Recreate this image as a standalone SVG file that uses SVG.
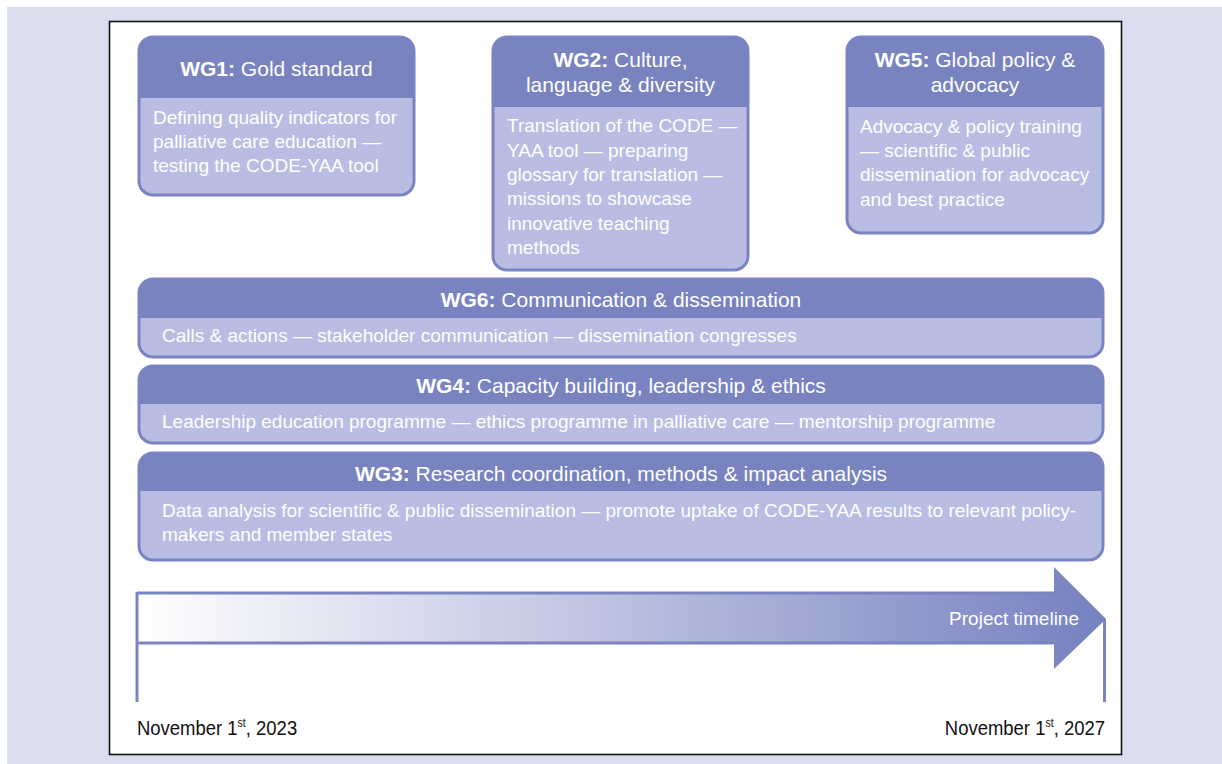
<svg xmlns="http://www.w3.org/2000/svg" width="1222" height="764" viewBox="0 0 1222 764">
  <defs>
    <linearGradient id="tl" x1="137" y1="0" x2="1106" y2="0" gradientUnits="userSpaceOnUse">
      <stop offset="0" stop-color="#ffffff"/>
      <stop offset="1" stop-color="#7681c0"/>
    </linearGradient>
    <clipPath id="c1"><rect x="139" y="37" width="275" height="158" rx="14"/></clipPath>
    <clipPath id="c2"><rect x="493" y="37" width="255" height="233" rx="14"/></clipPath>
    <clipPath id="c5"><rect x="847" y="37" width="256" height="196" rx="14"/></clipPath>
    <clipPath id="c6"><rect x="139" y="279" width="964" height="78" rx="14"/></clipPath>
    <clipPath id="c4"><rect x="139" y="366" width="964" height="77" rx="14"/></clipPath>
    <clipPath id="c3"><rect x="139" y="453" width="964" height="107" rx="14"/></clipPath>
  </defs>
  <style>
    .body { fill: #b9bde3; }
    .head { fill: #7883c0; }
    .frame { fill: none; stroke: #7a84c2; stroke-width: 3; }
    .title { font-family: "Liberation Sans", Arial, sans-serif; font-size: 21px; fill: #ffffff; text-anchor: middle; }
    .title tspan.b { font-weight: bold; }
    .desc { font-family: "Liberation Sans", Arial, sans-serif; font-size: 19px; fill: #ffffff; }
    .date { font-family: "Liberation Sans", Arial, sans-serif; font-size: 21px; fill: #111111; }
    .tick { stroke: #7a84c2; stroke-width: 3; fill: none; }
  </style>

  <!-- page background and framed panel -->
  <rect x="0" y="0" width="1222" height="764" fill="#ffffff"/>
  <rect x="7" y="7" width="1215" height="757" fill="#dcdef0"/>
  <rect x="109.5" y="21.5" width="1012" height="733" fill="#ffffff" stroke="#111111" stroke-width="1.6"/>

  <!-- WG1 -->
  <g id="wg1">
    <g clip-path="url(#c1)">
      <rect class="body" x="139" y="37" width="275" height="158"/>
      <rect class="head" x="139" y="37" width="275" height="61"/>
    </g>
    <rect class="frame" x="139" y="37" width="275" height="158" rx="14"/>
    <text class="title" x="276.5" y="76"><tspan class="b">WG1:</tspan> Gold standard</text>
    <text class="desc" x="153" y="124">Defining quality indicators for</text>
    <text class="desc" x="153" y="148">palliative care education —</text>
    <text class="desc" x="153" y="172">testing the CODE-YAA tool</text>
  </g>

  <!-- WG2 -->
  <g id="wg2">
    <g clip-path="url(#c2)">
      <rect class="body" x="493" y="37" width="255" height="233"/>
      <rect class="head" x="493" y="37" width="255" height="70"/>
    </g>
    <rect class="frame" x="493" y="37" width="255" height="233" rx="14"/>
    <text class="title" x="620.5" y="67"><tspan class="b">WG2:</tspan> Culture,</text>
    <text class="title" x="620.5" y="92">language &amp; diversity</text>
    <text class="desc" x="507" y="132">Translation of the CODE —</text>
    <text class="desc" x="507" y="156.5">YAA tool — preparing</text>
    <text class="desc" x="507" y="181">glossary for translation —</text>
    <text class="desc" x="507" y="205">missions to showcase</text>
    <text class="desc" x="507" y="229.5">innovative teaching</text>
    <text class="desc" x="507" y="254">methods</text>
  </g>

  <!-- WG5 -->
  <g id="wg5">
    <g clip-path="url(#c5)">
      <rect class="body" x="847" y="37" width="256" height="196"/>
      <rect class="head" x="847" y="37" width="256" height="70"/>
    </g>
    <rect class="frame" x="847" y="37" width="256" height="196" rx="14"/>
    <text class="title" x="975" y="67"><tspan class="b">WG5:</tspan> Global policy &amp;</text>
    <text class="title" x="975" y="92">advocacy</text>
    <text class="desc" x="860" y="133">Advocacy &amp; policy training</text>
    <text class="desc" x="860" y="157">— scientific &amp; public</text>
    <text class="desc" x="860" y="181">dissemination for advocacy</text>
    <text class="desc" x="860" y="205.5">and best practice</text>
  </g>

  <!-- WG6 -->
  <g id="wg6">
    <g clip-path="url(#c6)">
      <rect class="body" x="139" y="279" width="964" height="78"/>
      <rect class="head" x="139" y="279" width="964" height="39"/>
    </g>
    <rect class="frame" x="139" y="279" width="964" height="78" rx="14"/>
    <text class="title" x="621" y="307"><tspan class="b">WG6:</tspan> Communication &amp; dissemination</text>
    <text class="desc" x="162" y="342">Calls &amp; actions — stakeholder communication — dissemination congresses</text>
  </g>

  <!-- WG4 -->
  <g id="wg4">
    <g clip-path="url(#c4)">
      <rect class="body" x="139" y="366" width="964" height="77"/>
      <rect class="head" x="139" y="366" width="964" height="38"/>
    </g>
    <rect class="frame" x="139" y="366" width="964" height="77" rx="14"/>
    <text class="title" x="621" y="393"><tspan class="b">WG4:</tspan> Capacity building, leadership &amp; ethics</text>
    <text class="desc" x="162" y="428">Leadership education programme — ethics programme in palliative care — mentorship programme</text>
  </g>

  <!-- WG3 -->
  <g id="wg3">
    <g clip-path="url(#c3)">
      <rect class="body" x="139" y="453" width="964" height="107"/>
      <rect class="head" x="139" y="453" width="964" height="38"/>
    </g>
    <rect class="frame" x="139" y="453" width="964" height="107" rx="14"/>
    <text class="title" x="621" y="481"><tspan class="b">WG3:</tspan> Research coordination, methods &amp; impact analysis</text>
    <text class="desc" x="162" y="517">Data analysis for scientific &amp; public dissemination — promote uptake of CODE-YAA results to relevant policy-</text>
    <text class="desc" x="162" y="541">makers and member states</text>
  </g>

  <!-- project timeline -->
  <g id="timeline">
    <path d="M137,593 H1054 V567 L1106,619 L1054,669 V643 H137 Z" fill="url(#tl)"/>
    <path d="M137,593 H1054" class="tick" stroke-width="2.5"/>
    <path d="M137,643 H1054" class="tick" stroke-width="2.5"/>
    <path class="tick" d="M137,592 V702"/>
    <path class="tick" d="M1104.5,619 V702"/>
    <text class="desc" x="1079" y="625" text-anchor="end">Project timeline</text>
    <text class="date" transform="translate(137,735) scale(0.88,1)" x="0" y="0">November 1<tspan font-size="12" dy="-8">st</tspan><tspan dy="8">, 2023</tspan></text>
    <text class="date" transform="translate(1105,735) scale(0.88,1)" x="0" y="0" text-anchor="end">November 1<tspan font-size="12" dy="-8">st</tspan><tspan dy="8">, 2027</tspan></text>
  </g>
</svg>
